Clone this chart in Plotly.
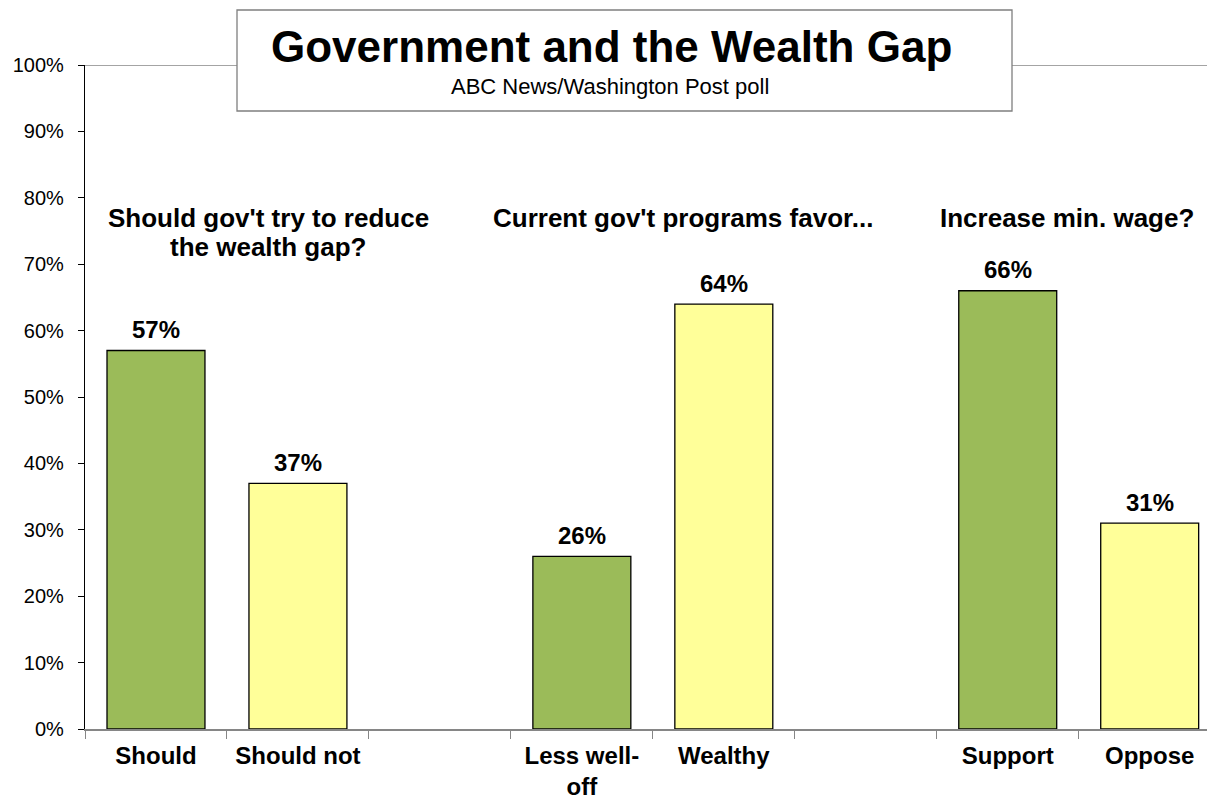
import plotly.graph_objects as go

categories = ["Should", "Should not", "", "Less well-<br>off", "Wealthy", "", "Support", "Oppose"]
values = [57, 37, None, 26, 64, None, 66, 31]
bar_colors = ["#9BBB59", "#FFFF99", None, "#9BBB59", "#FFFF99", None, "#9BBB59", "#FFFF99"]
group_titles = [["Should gov't try to reduce", "the wealth gap?"], ["Current gov't programs favor..."], ["Increase min. wage?"]]
group_title_x = [0.79, 3.71, 6.415]
group_title_y = 77.0
y_ticks = [0, 10, 20, 30, 40, 50, 60, 70, 80, 90, 100]
y_tick_labels = [f"{v}%" for v in y_ticks]
title = "Government and the Wealth Gap"
subtitle = "ABC News/Washington Post poll"

FONT = "Arial, 'Liberation Sans', sans-serif"

idx = [i for i, v in enumerate(values) if v is not None]
xs = idx
ys = [values[i] for i in idx]
cols = [bar_colors[i] for i in idx]

fig = go.Figure()
fig.add_trace(go.Bar(
    x=xs, y=ys, width=0.69,
    marker=dict(color=cols, line=dict(color="black", width=1.3)),
    showlegend=False, hoverinfo="skip",
))
for x, y in zip(xs, ys):
    fig.add_annotation(x=x, y=y, text=f"<b>{y}%</b>", showarrow=False, yshift=21,
                       font=dict(family=FONT, size=24, color="black"),
                       xanchor="center", yanchor="middle")

# page body has an 8px margin: figure is offset by 8px in the window
fig.update_layout(
    width=1207, height=790,
    margin=dict(l=77, r=0, t=57, b=69),
    plot_bgcolor="white", paper_bgcolor="white",
    font=dict(family=FONT, color="black"),
    showlegend=False,
)

fig.update_xaxes(
    range=[-0.5, 7.46], showgrid=False, zeroline=False, automargin=False,
    tickmode="array", tickvals=idx, ticktext=[categories[i] for i in idx],
    ticks="", ticklabelstandoff=4,
    tickfont=dict(family=FONT, size=24, color="black", weight="bold"),
    showline=True, linecolor="#868686", linewidth=1.5,
    minor=dict(tickmode="array", tickvals=[i - 0.5 for i in range(len(categories) + 1)],
               ticks="outside", ticklen=8, tickcolor="#868686", tickwidth=1),
)
fig.update_yaxes(
    range=[0, 100], showgrid=False, zeroline=False, automargin=False,
    tickmode="array", tickvals=y_ticks, ticktext=y_tick_labels,
    ticks="outside", ticklen=6, tickcolor="black", ticklabelstandoff=10,
    tickfont=dict(family=FONT, size=20, color="black"),
    showline=True, linecolor="black", linewidth=1.3,
)

# top line at 100%
fig.add_shape(type="line", xref="paper", yref="y", x0=0, x1=1, y0=100, y1=100,
              line=dict(color="#868686", width=1.5))
# title box
fig.add_shape(type="rect", xref="paper", yref="paper",
              x0=(237 - 85) / 1130, x1=(1012 - 85) / 1130,
              y0=(729 - 111) / 664, y1=(729 - 10) / 664,
              fillcolor="white", line=dict(color="#7f7f7f", width=1.3))

fig.add_annotation(text=f"<b>{title}</b>", xref="paper", yref="paper",
                   x=(611 - 85) / 1130, y=(729 - 46) / 664, showarrow=False,
                   font=dict(family=FONT, size=44, color="black"), xanchor="center", yanchor="middle")
fig.add_annotation(text=subtitle, xref="paper", yref="paper",
                   x=(610 - 85) / 1130, y=(729 - 87) / 664, showarrow=False,
                   font=dict(family=FONT, size=22, color="black"), xanchor="center", yanchor="middle")

for lines, gx in zip(group_titles, group_title_x):
    for k, line in enumerate(lines):
        fig.add_annotation(text=f"<b>{line}</b>", x=gx, y=group_title_y, yshift=-29 * k,
                           xref="x", yref="y", showarrow=False,
                           font=dict(family=FONT, size=26, color="black"),
                           xanchor="center", yanchor="middle")

fig.write_html("out.html")
